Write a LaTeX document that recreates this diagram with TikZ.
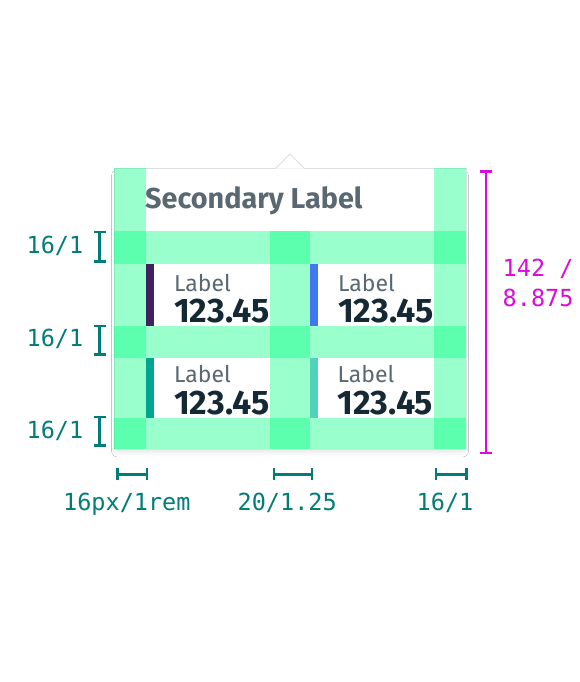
\documentclass[tikz,border=0pt]{standalone}
\usepackage{fontspec}
\setmainfont{Fira Sans}
\newfontfamily\dimfont{DejaVu Sans Mono}
\usetikzlibrary{shadows.blur,arrows.meta}
\definecolor{mint}{RGB}{0,255,128}
\definecolor{labgray}{HTML}{5A6872}
\definecolor{numdark}{HTML}{152935}
\definecolor{dimteal}{HTML}{007D79}
\definecolor{dimmag}{HTML}{DD0ADD}
\definecolor{barpurple}{HTML}{40215F}
\definecolor{barblue}{HTML}{4178F0}
\definecolor{barteal}{HTML}{00A68F}
\definecolor{barlight}{HTML}{4FD3B9}
\definecolor{cardline}{HTML}{DCDFE3}
\tikzset{
  guide/.style={fill=mint, fill opacity=0.4},
  lbl/.style={anchor=base west, inner sep=0pt, text=labgray, font=\fontsize{23}{23}\selectfont},
  num/.style={anchor=base west, inner sep=0pt, text=numdark, font=\fontsize{34}{34}\selectfont\bfseries},
  dimtxt/.style={anchor=base west, inner sep=0pt, text=dimteal, font=\dimfont\fontsize{23.5}{30}\selectfont},
  magtxt/.style={anchor=base west, inner sep=0pt, text=dimmag, align=left, font=\dimfont\fontsize{23.5}{30}\selectfont},
  dimline/.style={draw=dimteal, line width=2.5pt, {Bar[width=12pt]}-{Bar[width=12pt]}},
  magline/.style={draw=dimmag, line width=2.5pt, {Bar[width=12pt]}-{Bar[width=12pt]}},
}
\begin{document}
\begin{tikzpicture}[x=1pt,y=-1pt]
\fill[white] (0,0) rectangle (580,682);
\useasboundingbox (0,0) rectangle (580,682);
% card
\path[fill=white, draw=cardline, line width=1pt,
  blur shadow={shadow xshift=0pt, shadow yshift=-5pt, shadow scale=0.98, shadow blur radius=6pt, shadow blur steps=12, shadow opacity=12}]
  (114,168) rectangle (466,449);
% caret
\fill[white] (276,168.6) -- (290,154) -- (304,168.6) -- cycle;
\draw[cardline, line width=1pt] (276,168) -- (290,154) -- (304,168);
% colored bars
\fill[barpurple] (146,264) rectangle (153.5,326);
\fill[barblue] (310,264) rectangle (317.5,326);
\fill[barteal] (146,358) rectangle (153.5,417.5);
\fill[barlight] (310,358) rectangle (317.5,417.5);
% texts
\node[anchor=base west, inner sep=0pt, text=labgray, font=\fontsize{28.8}{29}\selectfont\bfseries] (sec) at (145,208.5) {Secondary Label};
\node[lbl] (l1) at (174,291.7) {Label};
\node[num] (n1) at (174,322.7) {123.45};
\node[lbl] (l2) at (338,291.7) {Label};
\node[num] (n2) at (338,322.7) {123.45};
\node[lbl] (l3) at (174,382.7) {Label};
\node[num] (n3) at (174,414) {123.45};
\node[lbl] (l4) at (337.5,382.7) {Label};
\node[num] (n4) at (337.5,414) {123.45};
% green guides
\fill[guide] (114,168) rectangle (146,449);
\fill[guide] (434,168) rectangle (466,449);
\fill[guide] (270,231) rectangle (310,449);
\fill[guide] (114,231) rectangle (466,263.8);
\fill[guide] (114,326) rectangle (466,358);
\fill[guide] (114,417.5) rectangle (466,449);
% left dimensions
\coordinate (a1) at (99.5,230.5); \coordinate (a2) at (99.5,262.5);
\coordinate (b1) at (99.5,324.5); \coordinate (b2) at (99.5,355.5);
\coordinate (c1) at (99.5,415.5); \coordinate (c2) at (99.5,446.5);
\draw[dimline] (a1) -- (a2);
\draw[dimline] (b1) -- (b2);
\draw[dimline] (c1) -- (c2);
\node[dimtxt] (t1) at (26.5,253.3) {16/1};
\node[dimtxt] (t2) at (26.5,346.7) {16/1};
\node[dimtxt] (t3) at (26.5,438.3) {16/1};
% right dimension
\coordinate (m1) at (486,170); \coordinate (m2) at (486,454);
\draw[magline] (m1) -- (m2);
\node[magtxt] (mt) at (502.5,306.7) {142 /\\8.875};
% bottom dimensions
\coordinate (d1) at (116,474.3); \coordinate (d2) at (148,474.3);
\coordinate (e1) at (272.5,474.3); \coordinate (e2) at (313,474.3);
\coordinate (f1) at (434.5,474.3); \coordinate (f2) at (467.5,474.3);
\draw[dimline] (d1) -- (d2);
\draw[dimline] (e1) -- (e2);
\draw[dimline] (f1) -- (f2);
\node[dimtxt] (bt1) at (63,510) {16px/1rem};
\node[dimtxt] (bt2) at (237.5,510) {20/1.25};
\node[dimtxt] (bt3) at (416.5,510) {16/1};
\end{tikzpicture}
\end{document}
